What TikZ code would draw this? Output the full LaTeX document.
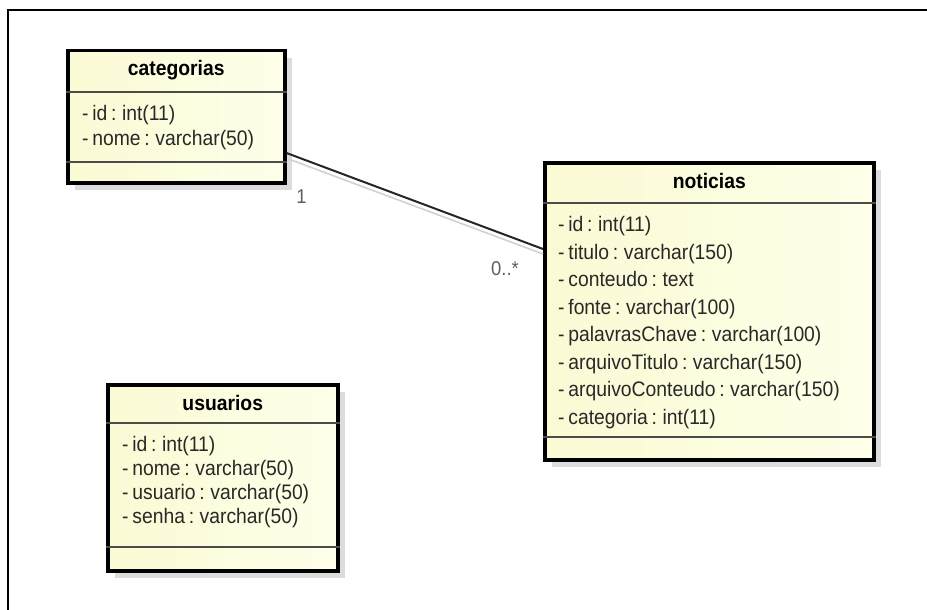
\documentclass[tikz,border=0pt]{standalone}
\usepackage{fontspec}
\setmainfont{Liberation Sans}[FakeStretch=0.92,WordSpace=0.7]
\usetikzlibrary{calc}
\usetikzlibrary{shadows}
\definecolor{umlleft}{RGB}{250,250,212}
\definecolor{umlright}{RGB}{255,255,234}
\definecolor{umlshadow}{RGB}{220,220,220}
\definecolor{umlrule}{RGB}{75,75,75}
\definecolor{multgray}{RGB}{95,95,95}
\definecolor{attrgray}{RGB}{40,40,40}

\begin{document}
\begin{tikzpicture}[x=1pt,y=-1pt,
    classbox/.style={draw=black,line width=3.5pt,left color=umlleft,right color=umlright,anchor=north west,inner sep=0pt,
      drop shadow={shadow xshift=7pt,shadow yshift=-7pt,fill=umlshadow,opacity=1}},
    classtitle/.style={font=\fontsize{21}{24}\selectfont\bfseries,text height=14pt,text depth=4pt,inner sep=0pt},
    classattr/.style={font=\fontsize{21}{24}\selectfont,text=attrgray,anchor=west,text height=14pt,text depth=4pt,inner sep=0pt},
    seprule/.style={draw=umlrule,line width=1.6pt},
    assoc/.style={draw=black!85,line width=2pt},
    mult/.style={font=\fontsize{20}{22}\selectfont,text=multgray,inner sep=0pt}]
    \useasboundingbox (0,0) rectangle (927,610);
    % frame
    \draw[line width=2pt] (8,610) -- (8,10) -- (927,10);

    % categorias
    \node[classbox,minimum width=217pt,minimum height=132pt] (categorias) at (66,49) {};
    \node[classtitle] (categoriastitle) at ($(categorias.north)+(0,22)$) {categorias};
    \draw[seprule] ($(categorias.north west)+(0,43)$) -- ($(categorias.north east)+(0,43)$);
    \draw[seprule] ($(categorias.north west)+(0,113)$) -- ($(categorias.north east)+(0,113)$);
    \foreach \attr [count=\i] in {- id : int(11),- nome : varchar(50)}
      {\node[classattr] (categorias-\i) at ($(categorias.north west)+(16,42+25*\i)$) {\attr};}

    % noticias
    \node[classbox,minimum width=329pt,minimum height=297pt] (noticias) at (543,161) {};
    \node[classtitle] (noticiastitle) at ($(noticias.north)+(0,22)$) {noticias};
    \draw[seprule] ($(noticias.north west)+(0,42)$) -- ($(noticias.north east)+(0,42)$);
    \draw[seprule] ($(noticias.north west)+(0,276)$) -- ($(noticias.north east)+(0,276)$);
    \foreach \attr [count=\i] in {- id : int(11),- titulo : varchar(150),- conteudo : text,- fonte : varchar(100),
      - palavrasChave : varchar(100),- arquivoTitulo : varchar(150),- arquivoConteudo : varchar(150),- categoria : int(11)}
      {\node[classattr] (noticias-\i) at ($(noticias.north west)+(15,38+27.5*\i)$) {\attr};}

    % usuarios
    \node[classbox,minimum width=230pt,minimum height=186pt] (usuarios) at (106,383) {};
    \node[classtitle] (usuariostitle) at ($(usuarios.north)+(0,22)$) {usuarios};
    \draw[seprule] ($(usuarios.north west)+(0,40)$) -- ($(usuarios.north east)+(0,40)$);
    \draw[seprule] ($(usuarios.north west)+(0,164)$) -- ($(usuarios.north east)+(0,164)$);
    \foreach \attr [count=\i] in {- id : int(11),- nome : varchar(50),- usuario : varchar(50),- senha : varchar(50)}
      {\node[classattr] (usuarios-\i) at ($(usuarios.north west)+(16,39+24*\i)$) {\attr};}

    % association
    \coordinate (assocA) at ($(categorias.north east)+(0,104)$);
    \coordinate (assocB) at ($(noticias.north west)+(0,88)$);
    \draw[draw=black!18,line width=1.6pt] ($(assocA)+(2,6)$) -- ($(assocB)+(0,5)$);
    \draw[assoc] (assocA) -- (assocB);
    \node[mult] (multone) at ($(assocA)+(15,44)$) {1};
    \node[mult] (multmany) at ($(assocB)+(-38,20)$) {0..*};
\end{tikzpicture}
\end{document}
